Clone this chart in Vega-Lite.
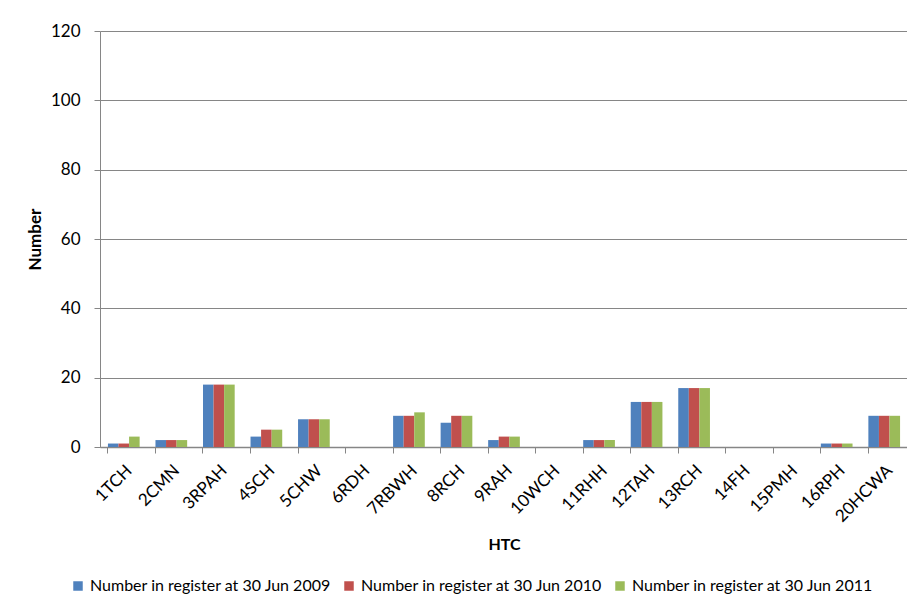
{
  "$schema": "https://vega.github.io/schema/vega-lite/v6.json",
  "autosize": {"type": "none"},
  "padding": {"left": 100, "top": 31, "right": 0, "bottom": 154},
  "width": 808,
  "height": 416,
  "background": "white",
  "config": {
    "font": "Lato",
    "view": {"stroke": null},
    "axis": {
      "domainColor": "#868686",
      "tickColor": "#868686",
      "gridColor": "#868686",
      "labelColor": "#000000",
      "titleColor": "#000000",
      "labelFont": "Lato",
      "titleFont": "Lato"
    },
    "legend": {"labelFont": "Lato", "labelColor": "#000000"}
  },
  "data": {
    "values": [
      {"htc": "1TCH", "series": "Number in register at 30 Jun 2009", "value": 1},
      {"htc": "1TCH", "series": "Number in register at 30 Jun 2010", "value": 1},
      {"htc": "1TCH", "series": "Number in register at 30 Jun 2011", "value": 3},
      {"htc": "2CMN", "series": "Number in register at 30 Jun 2009", "value": 2},
      {"htc": "2CMN", "series": "Number in register at 30 Jun 2010", "value": 2},
      {"htc": "2CMN", "series": "Number in register at 30 Jun 2011", "value": 2},
      {"htc": "3RPAH", "series": "Number in register at 30 Jun 2009", "value": 18},
      {"htc": "3RPAH", "series": "Number in register at 30 Jun 2010", "value": 18},
      {"htc": "3RPAH", "series": "Number in register at 30 Jun 2011", "value": 18},
      {"htc": "4SCH", "series": "Number in register at 30 Jun 2009", "value": 3},
      {"htc": "4SCH", "series": "Number in register at 30 Jun 2010", "value": 5},
      {"htc": "4SCH", "series": "Number in register at 30 Jun 2011", "value": 5},
      {"htc": "5CHW", "series": "Number in register at 30 Jun 2009", "value": 8},
      {"htc": "5CHW", "series": "Number in register at 30 Jun 2010", "value": 8},
      {"htc": "5CHW", "series": "Number in register at 30 Jun 2011", "value": 8},
      {"htc": "6RDH", "series": "Number in register at 30 Jun 2009", "value": 0},
      {"htc": "6RDH", "series": "Number in register at 30 Jun 2010", "value": 0},
      {"htc": "6RDH", "series": "Number in register at 30 Jun 2011", "value": 0},
      {"htc": "7RBWH", "series": "Number in register at 30 Jun 2009", "value": 9},
      {"htc": "7RBWH", "series": "Number in register at 30 Jun 2010", "value": 9},
      {"htc": "7RBWH", "series": "Number in register at 30 Jun 2011", "value": 10},
      {"htc": "8RCH", "series": "Number in register at 30 Jun 2009", "value": 7},
      {"htc": "8RCH", "series": "Number in register at 30 Jun 2010", "value": 9},
      {"htc": "8RCH", "series": "Number in register at 30 Jun 2011", "value": 9},
      {"htc": "9RAH", "series": "Number in register at 30 Jun 2009", "value": 2},
      {"htc": "9RAH", "series": "Number in register at 30 Jun 2010", "value": 3},
      {"htc": "9RAH", "series": "Number in register at 30 Jun 2011", "value": 3},
      {"htc": "10WCH", "series": "Number in register at 30 Jun 2009", "value": 0},
      {"htc": "10WCH", "series": "Number in register at 30 Jun 2010", "value": 0},
      {"htc": "10WCH", "series": "Number in register at 30 Jun 2011", "value": 0},
      {"htc": "11RHH", "series": "Number in register at 30 Jun 2009", "value": 2},
      {"htc": "11RHH", "series": "Number in register at 30 Jun 2010", "value": 2},
      {"htc": "11RHH", "series": "Number in register at 30 Jun 2011", "value": 2},
      {"htc": "12TAH", "series": "Number in register at 30 Jun 2009", "value": 13},
      {"htc": "12TAH", "series": "Number in register at 30 Jun 2010", "value": 13},
      {"htc": "12TAH", "series": "Number in register at 30 Jun 2011", "value": 13},
      {"htc": "13RCH", "series": "Number in register at 30 Jun 2009", "value": 17},
      {"htc": "13RCH", "series": "Number in register at 30 Jun 2010", "value": 17},
      {"htc": "13RCH", "series": "Number in register at 30 Jun 2011", "value": 17},
      {"htc": "14FH", "series": "Number in register at 30 Jun 2009", "value": 0},
      {"htc": "14FH", "series": "Number in register at 30 Jun 2010", "value": 0},
      {"htc": "14FH", "series": "Number in register at 30 Jun 2011", "value": 0},
      {"htc": "15PMH", "series": "Number in register at 30 Jun 2009", "value": 0},
      {"htc": "15PMH", "series": "Number in register at 30 Jun 2010", "value": 0},
      {"htc": "15PMH", "series": "Number in register at 30 Jun 2011", "value": 0},
      {"htc": "16RPH", "series": "Number in register at 30 Jun 2009", "value": 1},
      {"htc": "16RPH", "series": "Number in register at 30 Jun 2010", "value": 1},
      {"htc": "16RPH", "series": "Number in register at 30 Jun 2011", "value": 1},
      {"htc": "20HCWA", "series": "Number in register at 30 Jun 2009", "value": 9},
      {"htc": "20HCWA", "series": "Number in register at 30 Jun 2010", "value": 9},
      {"htc": "20HCWA", "series": "Number in register at 30 Jun 2011", "value": 9}
    ]
  },
  "mark": {"type": "bar"},
  "encoding": {
    "x": {
      "field": "htc",
      "type": "nominal",
      "sort": null,
      "scale": {"paddingInner": 0.333, "paddingOuter": 0.167},
      "axis": {
        "title": "HTC",
        "titleFontSize": 16,
        "titleFontWeight": "bold",
        "titlePadding": 12,
        "labelAngle": -45,
        "labelFontSize": 17,
        "labelPadding": 9,
        "tickSize": 6,
        "bandPosition": 0,
        "domainWidth": 1.5,
        "grid": false
      }
    },
    "xOffset": {"field": "series", "type": "nominal"},
    "y": {
      "field": "value",
      "type": "quantitative",
      "scale": {"domain": [0, 120], "nice": false},
      "axis": {
        "title": "Number",
        "titleFontSize": 17,
        "titleFontWeight": "bold",
        "titlePadding": 6,
        "values": [0, 20, 40, 60, 80, 100, 120],
        "labelFontSize": 17,
        "labelPadding": 14,
        "tickSize": 6,
        "grid": true
      }
    },
    "color": {
      "field": "series",
      "type": "nominal",
      "scale": {"range": ["#4F81BD", "#C0504D", "#9BBB59"]},
      "legend": {
        "title": null,
        "orient": "none",
        "legendX": -30,
        "legendY": 547,
        "direction": "horizontal",
        "symbolType": "square",
        "symbolSize": 90,
        "symbolStrokeWidth": 0,
        "labelFontSize": 16,
        "labelLimit": 0,
        "labelOffset": 4,
        "columnPadding": 9
      }
    }
  }
}
